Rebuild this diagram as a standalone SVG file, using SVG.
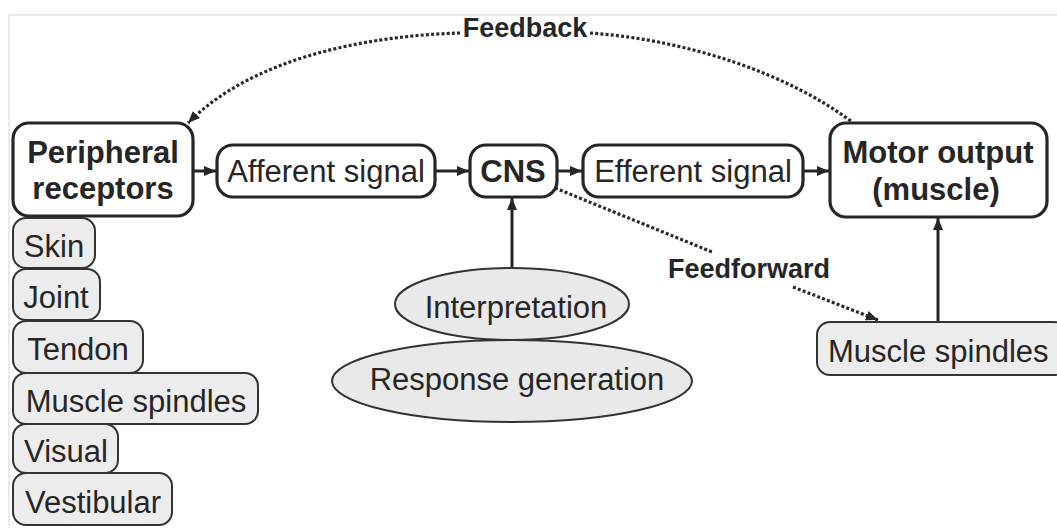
<svg xmlns="http://www.w3.org/2000/svg" width="1057" height="528" viewBox="0 0 1057 528">
  <style>
    text { font-family: "Liberation Sans", Arial, sans-serif; fill: #262626; }
    .b { font-weight: bold; font-size: 31px; }
    .r { font-size: 31px; }
    .lbl { font-weight: bold; font-size: 27px; }
    .main { fill: #ffffff; stroke: #262626; stroke-width: 3.2; }
    .sub { fill: #ececec; stroke: #333333; stroke-width: 2; }
    .ell { fill: #e9e9e9; stroke: #333333; stroke-width: 2; }
    .solid { fill: none; stroke: #262626; stroke-width: 3; }
    .dot { fill: none; stroke: #2a2a2a; stroke-width: 3.2; stroke-dasharray: 3 2.2; }
  </style>
  <defs>
    <marker id="ah" markerUnits="userSpaceOnUse" markerWidth="14" markerHeight="12" refX="12" refY="6" orient="auto">
      <path d="M0,1 L12,6 L0,11 Z" fill="#262626"/>
    </marker>
  </defs>

  <rect width="1057" height="528" fill="#ffffff"/>
  <!-- faint frame -->
  <path d="M9,528 L9,15 L1057,15" fill="none" stroke="#e4e4e4" stroke-width="1.5"/>

  <!-- connectors -->
  <g id="connectors">
    <line class="solid" x1="193" y1="171" x2="216" y2="171" marker-end="url(#ah)"/>
    <line class="solid" x1="435" y1="171" x2="469" y2="171" marker-end="url(#ah)"/>
    <line class="solid" x1="557" y1="171" x2="582" y2="171" marker-end="url(#ah)"/>
    <line class="solid" x1="803" y1="171" x2="829" y2="171" marker-end="url(#ah)"/>
    <line class="solid" x1="512" y1="268" x2="512" y2="198" marker-end="url(#ah)"/>
    <line class="solid" x1="938" y1="322" x2="938" y2="218" marker-end="url(#ah)"/>
    <path class="dot" d="M460,33 C360,36 250,60 188,123" marker-end="url(#ah)"/>
    <path class="dot" d="M590,33 C690,40 790,75 852,122"/>
    <line class="dot" x1="555" y1="188" x2="712" y2="252"/>
    <line class="dot" x1="793" y1="287" x2="878" y2="320" marker-end="url(#ah)"/>
  </g>
  <text class="lbl" x="525" y="37" text-anchor="middle">Feedback</text>
  <text class="lbl" x="749" y="278" text-anchor="middle">Feedforward</text>

  <g id="peripheral-receptors">
    <rect class="main" x="13" y="123" width="180" height="93" rx="16"/>
    <text class="b" x="103" y="163" text-anchor="middle">Peripheral</text>
    <text class="b" x="103" y="199" text-anchor="middle">receptors</text>
  </g>
  <g id="afferent-signal">
    <rect class="main" x="217" y="145" width="218" height="52" rx="16"/>
    <text class="r" x="326" y="182" text-anchor="middle">Afferent signal</text>
  </g>
  <g id="cns">
    <rect class="main" x="470" y="145" width="87" height="52" rx="16"/>
    <text class="b" x="513" y="182" text-anchor="middle">CNS</text>
  </g>
  <g id="efferent-signal">
    <rect class="main" x="583" y="145" width="220" height="52" rx="16"/>
    <text class="r" x="693" y="182" text-anchor="middle">Efferent signal</text>
  </g>
  <g id="motor-output">
    <rect class="main" x="830" y="123" width="217" height="94" rx="16"/>
    <text class="b" x="938" y="163" text-anchor="middle">Motor output</text>
    <text class="b" x="936" y="200" text-anchor="middle">(muscle)</text>
  </g>

  <g id="skin">
    <rect class="sub" x="13" y="218" width="82" height="50" rx="13"/>
    <text class="r" x="54" y="257" text-anchor="middle">Skin</text>
  </g>
  <g id="joint">
    <rect class="sub" x="13" y="269" width="87" height="51" rx="13"/>
    <text class="r" x="56" y="308" text-anchor="middle">Joint</text>
  </g>
  <g id="tendon">
    <rect class="sub" x="13" y="321" width="130" height="52" rx="13"/>
    <text class="r" x="78" y="360" text-anchor="middle">Tendon</text>
  </g>
  <g id="muscle-spindles-receptor">
    <rect class="sub" x="13" y="373" width="245" height="51" rx="13"/>
    <text class="r" x="136" y="412" text-anchor="middle">Muscle spindles</text>
  </g>
  <g id="visual">
    <rect class="sub" x="13" y="424" width="105" height="49" rx="13"/>
    <text class="r" x="66" y="462" text-anchor="middle">Visual</text>
  </g>
  <g id="vestibular">
    <rect class="sub" x="13" y="473" width="159" height="52" rx="13"/>
    <text class="r" x="93" y="513" text-anchor="middle">Vestibular</text>
  </g>

  <g id="response-generation">
    <ellipse class="ell" cx="512" cy="381" rx="180" ry="41"/>
    <text class="r" x="517" y="390" text-anchor="middle">Response generation</text>
  </g>
  <g id="interpretation">
    <ellipse class="ell" cx="512" cy="304" rx="117" ry="36"/>
    <text class="r" x="516" y="318" text-anchor="middle">Interpretation</text>
  </g>

  <g id="muscle-spindles-motor">
    <rect class="sub" x="817" y="322" width="250" height="53" rx="13"/>
    <text class="r" x="828" y="362">Muscle spindles</text>
  </g>
</svg>
